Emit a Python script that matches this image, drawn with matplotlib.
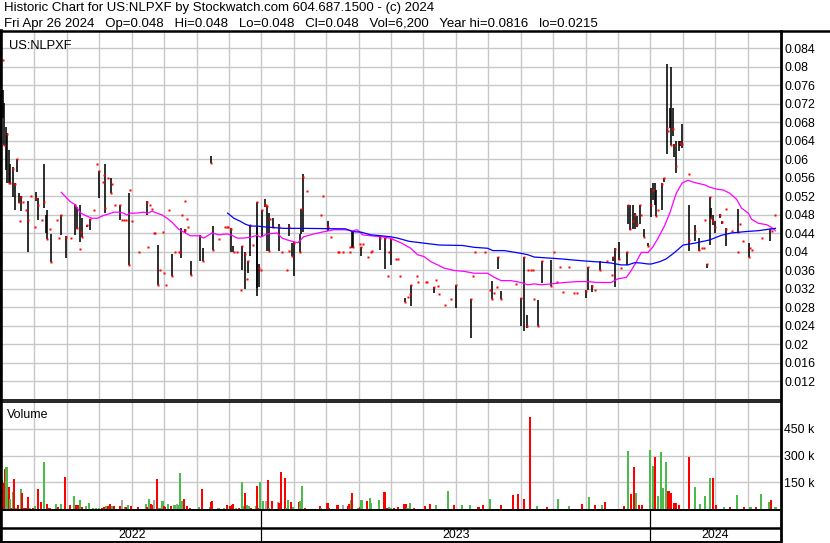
import numpy as np
import matplotlib
matplotlib.use("Agg")
import matplotlib.pyplot as plt
from matplotlib.lines import Line2D

plt.rcParams['font.family'] = ['Liberation Sans', 'DejaVu Sans']

# ---------------- data (time in months since 1 May 2022) ----------------
nan = np.nan
bars = [  # t, high, low, close
    (0.02, .0814, .0814, .0814), (0.04, .0750, .0688, nan), (0.07, .0721, .0631, .0631),
    (0.13, .0670, .0577, nan), (0.16, .0656, .0549, .0654), (0.23, .0620, .0548, .0549),
    (0.26, .0590, .0549, .0549), (0.35, .0582, .0517, .0579), (0.41, .0548, .0489, .0545),
    (0.45, .0600, .0571, .0600), (0.52, .0526, .0504, .0506), (0.56, .0465, .0465, .0465),
    (0.60, .0520, .0487, .0518), (0.65, .0506, .0506, .0506), (0.74, .0489, .0489, .0489),
    (0.81, .0510, .0398, .0469), (0.90, .0519, .0519, .0519), (1.02, .0454, .0454, .0454),
    (1.04, .0529, .0510, .0516), (1.12, .0516, .0468, .0500), (1.24, .0468, .0468, .0468),
    (1.31, .0590, .0493, .0508), (1.37, .0479, .0440, nan), (1.40, .0490, .0427, .0427),
    (1.48, .0449, .0449, .0449), (1.51, .0438, .0378, .0378), (1.70, .0468, .0468, .0468),
    (1.76, .0430, .0430, .0430), (1.83, .0479, .0435, .0478), (1.96, .0433, .0387, .0432),
    (2.12, .0430, .0430, .0430), (2.24, .0502, .0435, .0500), (2.31, .0497, .0448, .0450),
    (2.40, .0500, .0420, nan), (2.42, .0406, .0406, .0406), (2.45, .0443, .0443, .0443),
    (2.48, .0472, .0431, .0432), (2.62, .0458, .0452, .0458), (2.70, .0470, .0447, .0470),
    (2.85, .0489, .0489, .0489), (2.94, .0590, .0590, .0590), (2.98, .0575, .0515, .0575),
    (3.12, .0551, .0551, .0551), (3.15, .0566, .0566, .0566), (3.18, .0590, .0483, .0493),
    (3.28, .0558, .0558, .0558), (3.35, .0559, .0526, .0526), (3.40, .0546, .0546, .0546),
    (3.49, .0500, .0500, .0500), (3.65, .0500, .0468, .0500), (3.70, .0468, .0468, .0468),
    (3.76, .0468, .0468, .0468), (3.83, .0468, .0468, .0468), (3.91, .0526, .0370, .0370),
    (3.96, .0533, .0533, .0533), (4.02, .0467, .0467, .0467), (4.22, .0398, .0398, .0398),
    (4.46, .0510, .0479, .0508), (4.51, .0409, .0409, .0409), (4.57, .0501, .0501, .0501),
    (4.64, .0492, .0492, .0492), (4.70, .0441, .0441, .0441), (4.73, .0441, .0441, .0441),
    (4.80, .0414, .0328, .0328), (4.88, .0359, .0359, .0359), (4.97, .0443, .0443, .0443),
    (5.00, .0354, .0354, .0354), (5.07, .0328, .0328, .0328), (5.16, .0489, .0489, .0489),
    (5.24, .0395, .0348, .0348), (5.35, .0398, .0398, .0398), (5.45, .0398, .0398, .0398),
    (5.48, .0398, .0398, .0398), (5.51, .0450, .0385, nan), (5.56, .0478, .0478, .0478),
    (5.63, .0510, .0510, .0510), (5.65, .0449, .0439, .0447), (5.72, .0471, .0471, .0471),
    (5.75, .0454, .0454, .0454), (5.83, .0380, .0350, .0350), (6.10, .0436, .0379, .0434),
    (6.19, .0407, .0379, .0379), (6.44, .0607, .0591, .0591), (6.50, .0455, .0404, .0404),
    (6.70, .0427, .0427, .0427), (6.89, .0452, .0452, .0452), (6.94, .0454, .0454, .0454),
    (6.98, .0452, .0452, .0452), (7.05, .0450, .0400, .0449), (7.12, .0411, .0398, nan),
    (7.15, .0398, .0398, .0398), (7.25, .0398, .0398, .0398), (7.36, .0317, .0317, .0317),
    (7.40, .0412, .0360, .0412), (7.51, .0398, .0320, .0395), (7.55, .0341, .0341, .0341),
    (7.60, .0379, .0354, .0379), (7.64, .0458, .0391, .0458), (7.73, .0413, .0413, .0413),
    (7.86, .0507, .0303, .0506), (7.88, .0452, .0322, nan), (7.93, .0372, .0324, .0365),
    (7.98, .0360, .0360, .0360), (8.01, .0489, .0432, .0489), (8.10, .0513, .0497, .0500),
    (8.13, .0500, .0500, .0500), (8.17, .0499, .0401, .0499), (8.23, .0483, .0401, .0401),
    (8.28, .0471, .0471, .0471), (8.36, .0472, .0450, .0454), (8.54, .0460, .0402, .0454),
    (8.65, .0400, .0400, .0400), (8.78, .0359, .0359, .0359), (8.84, .0402, .0402, .0402),
    (8.86, .0460, .0434, .0454), (8.94, .0419, .0391, .0391), (9.01, .0421, .0348, .0419),
    (9.19, .0438, .0398, .0400), (9.23, .0491, .0438, .0491), (9.28, .0568, .0443, .0561),
    (9.40, .0530, .0530, .0530), (9.85, .0479, .0479, .0479), (9.89, .0521, .0521, .0521),
    (10.06, .0465, .0445, .0452), (10.14, .0432, .0432, .0432), (10.38, .0398, .0398, .0398),
    (10.40, .0398, .0398, .0398), (10.53, .0398, .0398, .0398), (10.72, .0409, .0409, .0409),
    (10.75, .0398, .0398, .0398), (10.81, .0443, .0407, nan), (10.84, .0443, .0410, .0410),
    (11.03, .0417, .0417, .0417), (11.08, .0410, .0391, .0409), (11.13, .0417, .0417, .0417),
    (11.30, .0389, .0389, .0389), (11.37, .0398, .0398, .0398), (11.41, .0401, .0401, .0401),
    (11.66, .0431, .0404, .0430), (11.82, .0429, .0362, .0429), (11.92, .0347, .0347, .0347),
    (11.95, .0398, .0398, .0398), (12.00, .0427, .0370, .0427), (12.14, .0384, .0384, .0384),
    (12.22, .0384, .0384, .0384), (12.27, .0347, .0347, .0347), (12.44, .0299, .0290, .0290),
    (12.51, .0301, .0301, .0301), (12.59, .0308, .0308, .0308), (12.62, .0328, .0283, .0328),
    (12.80, .0347, .0347, .0347), (12.83, .0335, .0335, .0335), (13.07, .0333, .0333, .0333),
    (13.11, .0333, .0333, .0333), (13.33, .0324, .0310, .0324), (13.39, .0339, .0339, .0339),
    (13.44, .0326, .0326, .0326), (13.48, .0308, .0308, .0308), (13.66, .0284, .0284, .0284),
    (13.85, .0297, .0297, .0297), (14.01, .0328, .0277, .0328), (14.48, .0297, .0214, .0297),
    (14.53, .0347, .0347, .0347), (14.59, .0398, .0398, .0398), (14.90, .0398, .0398, .0398),
    (15.05, .0317, .0317, .0317), (15.13, .0336, .0297, .0297), (15.17, .0311, .0311, .0311),
    (15.27, .0324, .0324, .0324), (15.31, .0389, .0362, .0389), (15.40, .0315, .0297, .0297),
    (15.86, .0330, .0330, .0330), (16.02, .0299, .0238, .0299), (16.11, .0389, .0229, .0389),
    (16.18, .0263, .0234, .0238), (16.23, .0359, .0359, .0359), (16.32, .0359, .0359, .0359),
    (16.38, .0359, .0359, .0359), (16.41, .0297, .0297, .0297), (16.55, .0295, .0238, .0238),
    (16.65, .0379, .0331, .0379), (16.93, .0382, .0326, .0326), (17.03, .0398, .0398, .0398),
    (17.12, .0333, .0333, .0333), (17.22, .0367, .0367, .0367), (17.31, .0312, .0312, .0312),
    (17.50, .0367, .0367, .0367), (17.65, .0311, .0311, .0311), (17.74, .0311, .0311, .0311),
    (18.00, .0317, .0299, .0314), (18.09, .0367, .0317, .0367), (18.20, .0327, .0312, .0326),
    (18.29, .0317, .0317, .0317), (18.44, .0379, .0360, .0360), (18.66, .0379, .0379, .0379),
    (18.81, .0350, .0350, .0350), (18.86, .0389, .0379, .0389), (18.90, .0407, .0324, .0405),
    (19.02, .0420, .0382, .0384), (19.10, .0365, .0365, .0365), (19.28, .0398, .0371, .0398),
    (19.31, .0500, .0459, .0500), (19.36, .0500, .0447, .0449), (19.47, .0500, .0448, .0466),
    (19.52, .0483, .0448, .0478), (19.59, .0476, .0452, .0459), (19.67, .0500, .0459, .0500),
    (19.72, .0478, .0478, .0478), (19.80, .0448, .0432, .0432), (19.94, .0419, .0411, .0411),
    (20.03, .0537, .0474, .0500), (20.08, .0548, .0512, .0533), (20.13, .0549, .0501, nan),
    (20.17, .0533, .0476, .0476), (20.25, .0489, .0489, .0489), (20.35, .0548, .0489, .0546),
    (20.41, .0558, .0551, .0558), (20.50, .0806, .0610, .0667), (20.56, .0660, .0660, .0660),
    (20.60, .0710, .0667, nan), (20.63, .0799, .0631, .0631), (20.69, .0710, .0650, .0665),
    (20.73, .0633, .0604, nan), (20.77, .0631, .0631, .0631), (20.80, .0638, .0569, .0585),
    (20.88, .0638, .0618, nan), (20.92, .0638, .0629, .0634), (20.97, .0676, .0623, .0633),
    (21.18, .0568, .0568, .0568), (21.19, .0501, .0402, .0425), (21.37, .0458, .0422, .0445),
    (21.49, .0429, .0402, .0404), (21.58, .0407, .0407, .0407), (21.66, .0407, .0407, .0407),
    (21.70, .0468, .0468, .0468), (21.76, .0373, .0364, .0373), (21.83, .0517, .0415, .0517),
    (21.87, .0495, .0471, .0472), (21.93, .0479, .0458, .0466), (21.99, .0466, .0441, .0452),
    (22.14, .0481, .0472, .0479), (22.22, .0466, .0459, .0463), (22.32, .0492, .0492, .0492),
    (22.33, .0450, .0411, .0449), (22.53, .0445, .0445, .0445), (22.69, .0400, .0400, .0400),
    (22.70, .0492, .0440, .0442), (22.77, .0460, .0460, .0460), (22.87, .0423, .0423, .0423),
    (23.04, .0418, .0389, .0389), (23.08, .0407, .0407, .0407), (23.15, .0404, .0404, .0404),
    (23.46, .0430, .0430, .0430), (23.68, .0449, .0422, .0449), (23.76, .0445, .0445, .0445),
    (23.86, .0478, .0478, .0478),
]
bar_t = [b[0] for b in bars]
bar_hi = [b[1] for b in bars]
bar_lo = [b[2] for b in bars]
bar_cl = [b[3] for b in bars]

ma_short_t = [1.83, 2.10, 2.26, 2.41, 2.57, 2.77, 2.95, 3.13, 3.29, 3.44, 3.60, 3.75, 3.85, 3.96, 4.16,
              4.37, 4.50, 4.63, 4.78, 4.94, 5.09, 5.25, 5.45, 5.66, 5.81, 6.07, 6.22, 6.48, 6.69, 6.95,
              7.10, 7.25, 7.46, 7.67, 7.87, 7.98, 8.18, 8.49, 8.64, 8.80, 9.01, 9.13, 9.31, 9.62, 9.88,
              10.24, 10.60, 10.81, 10.96, 11.12, 11.38, 11.69, 11.97, 12.30, 12.61, 12.82, 13.02, 13.23,
              13.44, 13.64, 13.95, 14.26, 14.57, 14.98, 15.19, 15.40, 15.70, 16.01, 16.22, 16.42, 16.63,
              16.94, 17.35, 17.76, 18.07, 18.38, 18.79, 19.00, 19.26, 19.41, 19.57, 19.72, 19.93, 20.08,
              20.24, 20.44, 20.60, 20.80, 20.98, 21.16, 21.37, 21.68, 21.83, 22.04, 22.25, 22.45, 22.66,
              22.81, 23.02, 23.12, 23.33, 23.59, 23.74, 23.86]
ma_short = [.0528, .0508, .0501, .0484, .0478, .0472, .0472, .0478, .0481, .0485, .0485, .0483, .0479, .0483, .0483,
            .0485, .0483, .0487, .0483, .0479, .0472, .0463, .0448, .0440, .0434, .0434, .0429, .0440, .0436, .0438,
            .0435, .0429, .0429, .0431, .0435, .0431, .0438, .0440, .0429, .0425, .0421, .0419, .0432, .0438, .0442,
            .0447, .0447, .0445, .0447, .0436, .0434, .0432, .0429, .0419, .0407, .0393, .0389, .0378,
            .0371, .0364, .0359, .0357, .0353, .0353, .0344, .0337, .0337, .0333, .0328, .0330, .0328,
            .0330, .0333, .0335, .0335, .0333, .0333, .0341, .0344, .0359, .0378, .0398, .0398, .0410,
            .0429, .0456, .0483, .0526, .0548, .0554, .0549, .0544, .0539, .0535, .0533, .0526, .0513,
            .0494, .0483, .0470, .0461, .0458, .0452, .0445]

ma_long_t = [6.96, 7.15, 7.36, 7.51, 7.67, 7.87, 8.13, 8.70, 9.31, 10.60, 10.81, 11.07, 11.38, 11.69, 11.97,
             12.20, 12.56, 13.02, 13.49, 14.21, 14.57, 14.98, 15.14, 15.50, 15.75, 16.01, 16.22, 16.42, 16.84,
             17.25, 17.56, 18.07, 18.49, 18.79, 19.10, 19.31, 19.52, 19.72, 19.93, 20.03, 20.29, 20.49, 20.75,
             21.01, 21.37, 21.83, 22.19, 22.50, 22.92, 23.33, 23.64, 23.86]
ma_long = [.0483, .0472, .0465, .0459, .0455, .0455, .0453, .0450, .0450, .0449, .0443, .0442, .0436, .0434, .0432,
           .0429, .0422, .0418, .0414, .0413, .0409, .0407, .0402, .0402, .0399, .0396, .0393, .0388, .0386,
           .0384, .0382, .0379, .0377, .0375, .0371, .0371, .0376, .0375, .0373, .0373, .0378, .0384, .0398,
           .0414, .0418, .0425, .0435, .0440, .0443, .0445, .0448, .0450]

volume = [  # t, volume, direction (+1 up, -1 down, 0 unchanged)
    (0.00, 163e3, -1), (0.04, 144e3, -1), (0.10, 225e3, -1), (0.14, 236e3, 1), (0.21, 121e3, -1),
    (0.25, 58e3, 1), (0.28, 4e3, -1), (0.33, 94e3, 1), (0.38, 167e3, -1), (0.43, 8e3, 1),
    (0.50, 23e3, -1), (0.58, 110e3, 1), (0.62, 87e3, -1), (0.68, 6e3, -1), (0.73, 8e3, -1),
    (0.79, 69e3, -1), (0.87, 6e3, 1), (0.97, 6e3, -1), (1.02, 17e3, 1), (1.10, 110e3, -1),
    (1.20, 40e3, -1), (1.29, 265e3, 1), (1.38, 29e3, -1), (1.43, 6e3, -1), (1.48, 6e3, -1),
    (1.66, 29e3, 1), (1.72, 12e3, -1), (1.81, 29e3, 1), (1.94, 179e3, -1), (2.10, 23e3, -1),
    (2.23, 75e3, 1), (2.29, 23e3, -1), (2.36, 23e3, -1), (2.41, 52e3, 1), (2.47, 12e3, -1),
    (2.60, 17e3, 1), (2.68, 35e3, 1), (2.81, 6e3, 1), (2.90, 6e3, 1), (2.98, 6e3, 1),
    (3.08, 6e3, -1), (3.15, 12e3, -1), (3.20, 17e3, 1), (3.27, 17e3, -1), (3.34, 29e3, -1),
    (3.38, 17e3, 1), (3.46, 17e3, -1), (3.65, 17e3, -1), (3.71, 52e3, 0), (3.79, 12e3, 1),
    (3.83, 12e3, -1), (3.90, 23e3, 1), (3.98, 17e3, -1), (4.19, 12e3, -1), (4.45, 29e3, 1),
    (4.47, 12e3, -1), (4.53, 58e3, 1), (4.60, 29e3, -1), (4.64, 23e3, -1), (4.70, 52e3, 0),
    (4.78, 167e3, -1), (4.86, 6e3, 1), (4.95, 46e3, 1), (4.99, 17e3, -1), (5.03, 12e3, -1),
    (5.13, 29e3, 1), (5.21, 17e3, -1), (5.32, 23e3, 1), (5.40, 29e3, 0), (5.44, 23e3, 1),
    (5.49, 202e3, 1), (5.54, 46e3, 1), (5.62, 56e3, -1), (5.71, 17e3, -1), (5.80, 6e3, -1),
    (6.09, 12e3, 1), (6.18, 110e3, -1), (6.41, 12e3, 1), (6.45, 37e3, -1), (6.49, 46e3, -1),
    (6.68, 6e3, 1), (6.86, 6e3, 1), (6.94, 23e3, -1), (7.04, 17e3, -1), (7.09, 23e3, -1),
    (7.13, 29e3, -1), (7.23, 6e3, 0), (7.32, 6e3, -1), (7.39, 150e3, 1), (7.45, 17e3, 1),
    (7.50, 87e3, -1), (7.56, 23e3, 1), (7.61, 17e3, 1), (7.69, 6e3, -1), (7.84, 17e3, 1),
    (7.87, 127e3, -1), (7.92, 6e3, -1), (7.97, 150e3, 1), (8.06, 46e3, 1), (8.15, 46e3, 0),
    (8.21, 161e3, -1), (8.25, 6e3, 1), (8.34, 46e3, -1), (8.51, 40e3, 0), (8.55, 35e3, -1),
    (8.61, 208e3, -1), (8.73, 173e3, -1), (8.77, 6e3, 1), (8.83, 52e3, 1), (8.91, 40e3, -1),
    (8.97, 12e3, 1), (9.16, 40e3, -1), (9.20, 46e3, 1), (9.26, 127e3, 1), (9.35, 6e3, -1),
    (9.81, 17e3, -1), (9.85, 6e3, 1), (10.04, 35e3, -1), (10.10, 6e3, -1), (10.35, 23e3, -1),
    (10.51, 23e3, 0), (10.67, 17e3, -1), (10.72, 29e3, -1), (10.77, 52e3, 1), (10.81, 92e3, -1),
    (10.98, 6e3, 1), (11.05, 12e3, -1), (11.09, 52e3, 1), (11.27, 46e3, -1), (11.34, 63e3, 1),
    (11.38, 35e3, 1), (11.64, 52e3, 1), (11.80, 98e3, -1), (11.89, 6e3, -1), (11.93, 12e3, 1),
    (11.99, 6e3, 1), (12.10, 6e3, -1), (12.22, 12e3, -1), (12.41, 29e3, -1), (12.47, 29e3, -1),
    (12.51, 6e3, 1), (12.59, 35e3, 1), (12.72, 6e3, -1), (13.05, 15e3, -1), (13.20, 30e3, -1),
    (13.38, 20e3, 1), (13.75, 100e3, 1), (13.95, 25e3, -1), (14.20, 20e3, 1), (14.45, 25e3, 1),
    (14.70, 10e3, -1), (14.85, 20e3, -1), (15.05, 55e3, 1), (15.40, 20e3, -1), (15.75, 80e3, -1),
    (15.92, 85e3, -1), (16.10, 55e3, -1), (16.30, 515e3, -1), (16.50, 15e3, 1), (16.80, 10e3, -1),
    (17.15, 55e3, 1), (17.50, 15e3, 1), (17.90, 30e3, -1), (18.10, 70e3, 1), (18.30, 25e3, -1),
    (18.50, 25e3, 1), (18.60, 40e3, -1), (19.20, 15e3, -1), (19.30, 323e3, 1), (19.41, 83e3, -1),
    (19.49, 233e3, -1), (19.57, 87e3, 1), (19.66, 25e3, -1), (19.74, 25e3, -1), (19.98, 329e3, 1),
    (20.07, 240e3, 1), (20.15, 294e3, -1), (20.23, 71e3, 1), (20.33, 317e3, 1), (20.39, 117e3, 1),
    (20.49, 265e3, 1), (20.56, 102e3, -1), (20.64, 92e3, -1), (20.72, 35e3, -1), (20.80, 35e3, -1),
    (20.88, 25e3, -1), (21.18, 290e3, -1), (21.38, 125e3, 1), (21.54, 29e3, 1), (21.70, 71e3, 1),
    (21.83, 173e3, 1), (21.92, 173e3, -1), (22.03, 25e3, -1), (22.28, 10e3, 1), (22.45, 12e3, -1),
    (22.68, 77e3, 1), (22.90, 10e3, -1), (23.09, 13e3, 1), (23.25, 10e3, -1), (23.42, 83e3, 1),
    (23.66, 38e3, 1), (23.73, 48e3, -1), (23.86, 13e3, 1),
]
vol_t = [v[0] for v in volume]
vol_v = [v[1] for v in volume]
vol_dir = [v[2] for v in volume]

price_ticks = [0.012, 0.016, 0.02, 0.024, 0.028, 0.032, 0.036, 0.04, 0.044, 0.048, 0.052,
               0.056, 0.06, 0.064, 0.068, 0.072, 0.076, 0.08, 0.084]
price_tick_labels = ['0.012', '0.016', '0.02', '0.024', '0.028', '0.032', '0.036', '0.04', '0.044',
                     '0.048', '0.052', '0.056', '0.06', '0.064', '0.068', '0.072', '0.076', '0.08', '0.084']
vol_ticks = [150e3, 300e3, 450e3]
vol_tick_labels = ['150 k', '300 k', '450 k']
years = ['2022', '2023', '2024']
year_bounds = [0, 8, 20, 24]   # month index boundaries of each year

title1 = "Historic Chart for US:NLPXF by Stockwatch.com 604.687.1500 - (c) 2024"
title2 = ("Fri Apr 26 2024   Op=0.048   Hi=0.048   Lo=0.048   Cl=0.048   Vol=6,200   "
          "Year hi=0.0816   lo=0.0215")
symbol = "US:NLPXF"

# ---------------- figure ----------------
W, H = 830, 543
fig = plt.figure(figsize=(W / 100, H / 100), dpi=100)
fig.patch.set_facecolor('white')

def rect(x0, y0, x1, y1):
    return [x0 / W, 1 - y1 / H, (x1 - x0) / W, (y1 - y0) / H]

GRID = '#c8c8c8'
FS = 8.9
XL, XR = 2, 780

ax = fig.add_axes(rect(XL, 32, XR, 399))
axv = fig.add_axes(rect(XL, 402, XR, 509))
for a in (ax, axv):
    a.set_xlim(0, 24)
    for s in a.spines.values():
        s.set_visible(False)
    a.set_xticks(range(1, 24))
    a.tick_params(axis='x', length=0, labelbottom=False)
    a.grid(True, axis='both', color=GRID, lw=1.0)
    a.set_axisbelow(True)
    a.yaxis.tick_right()
    a.tick_params(axis='y', length=0, pad=3.2, labelsize=FS)

ax.set_ylim(0.00811, 0.08746)
ax.set_yticks(price_ticks)
ax.set_yticklabels(price_tick_labels)

axv.set_ylim(0, 600e3)
axv.set_yticks(vol_ticks)
axv.set_yticklabels(vol_tick_labels)

# price bars
ax.vlines(bar_t, bar_lo, bar_hi, color='black', lw=1.15, zorder=3)
ax.plot(bar_t, bar_cl, ls='none', marker='s', ms=2.1, mfc='#ff0000', mec='none', zorder=4)
ax.plot(ma_short_t, ma_short, color='#ff00ff', lw=0.9, zorder=5)
ax.plot(ma_long_t, ma_long, color='#0000ff', lw=0.9, zorder=5)
ax.text(0.009, 0.977, symbol, transform=ax.transAxes, fontsize=FS + 0.4, va='top', ha='left')

# volume
col_map = {1: '#4cbb4c', -1: '#ff0000', 0: '#a8a8a8'}
axv.bar(vol_t, vol_v, width=0.065, color=[col_map[d] for d in vol_dir], lw=0, zorder=3)
axv.text(0.006, 0.93, "Volume", transform=axv.transAxes, fontsize=FS, va='top', ha='left')

# date axis rows
axd = fig.add_axes(rect(XL, 509, XR, 542))
axd.set_xlim(0, 24)
axd.set_ylim(0, 1)
axd.axis('off')
for i, y in enumerate(years):
    axd.text((year_bounds[i] + year_bounds[i + 1]) / 2, 0.2, y, ha='center', va='center', fontsize=FS)
for b in year_bounds[1:-1]:
    axd.axvline(b, color='black', lw=0.9)

# frame lines in pixel coordinates
ov = fig.add_axes([0, 0, 1, 1], facecolor='none')
ov.set_xlim(0, W)
ov.set_ylim(H, 0)
ov.axis('off')
def hl(y, x0, x1, lw):
    ov.add_line(Line2D([x0, x1], [y, y], color='black', lw=lw))
def vl(x, y0, y1, lw):
    ov.add_line(Line2D([x, x], [y0, y1], color='black', lw=lw))
hl(31, 0, W, 1.8)
hl(399.5, 0, XR, 1.2)
hl(401.5, 0, XR, 1.2)
hl(509.5, 0, XR, 1.4)
hl(527.5, 0, XR, 1.8)
hl(542, 0, XR, 1.4)
vl(1.2, 31, 543, 2.6)
vl(XR + 0.5, 31, 543, 2.0)

fig.text(4 / W, 1 - 11 / H, title1, fontsize=9.5, va='baseline', ha='left')
fig.text(4 / W, 1 - 27 / H, title2, fontsize=9.5, va='baseline', ha='left')

fig.savefig('out.png', dpi=100, facecolor='white')
